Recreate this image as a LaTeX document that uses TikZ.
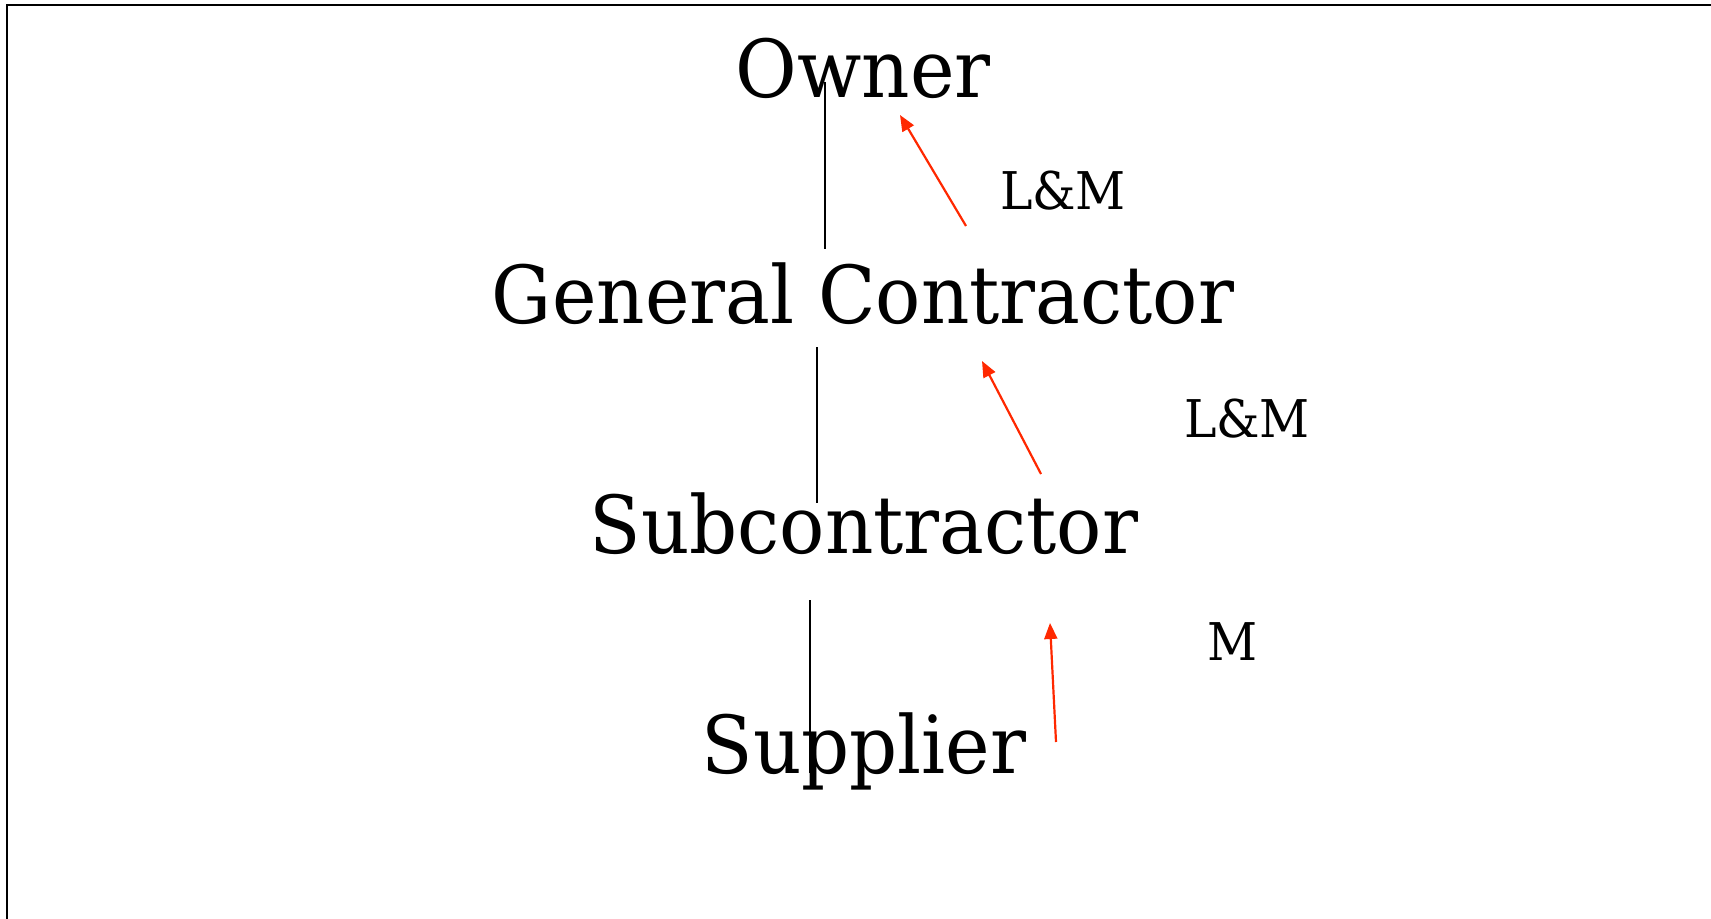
\documentclass[tikz,border=0pt]{standalone}
\usepackage{fontspec}
\setmainfont[FakeStretch=0.94]{DejaVu Serif}
\usetikzlibrary{arrows.meta}
\definecolor{flow}{RGB}{255,40,0}
\tikzset{
  x=0.5pt, y=-0.5pt,
  tier/.style={anchor=base, inner sep=0pt, font=\fontsize{40}{44}\selectfont},
  tag/.style={anchor=base, inner sep=0pt, font=\fontsize{26}{30}\selectfont},
  link/.style={line width=1.1pt, black},
  upflow/.style={line width=1.1pt, flow, -{Triangle[length=8pt,width=6.5pt]}},
}
\begin{document}
\begin{tikzpicture}
\useasboundingbox (0,0) rectangle (1711,919);
\draw[line width=1.1pt] (7,960) -- (7,5) -- (1760,5);
% tiers
\node[tier] (owner) at (863,98) {Owner};
\node[tier] (gc) at (863,324) {General Contractor};
\node[tier] (sub) at (864,553) {Subcontractor};
\node[tier] (sup) at (864,773) {Supplier};
% vertical links
\coordinate (l1a) at (825,82);  \coordinate (l1b) at (825,249);
\coordinate (l2a) at (817,347); \coordinate (l2b) at (817,503);
\coordinate (l3a) at (810,600); \coordinate (l3b) at (810,773);
\draw[link] (l1a) -- (l1b);
\draw[link] (l2a) -- (l2b);
\draw[link] (l3a) -- (l3b);
% upward flows
\coordinate (f1a) at (966,226);  \coordinate (f1b) at (900,115);
\coordinate (f2a) at (1041,474); \coordinate (f2b) at (982,361);
\coordinate (f3a) at (1056,742); \coordinate (f3b) at (1050,623);
\draw[upflow] (f1a) -- (f1b);
\draw[upflow] (f2a) -- (f2b);
\draw[upflow] (f3a) -- (f3b);
% flow labels
\node[tag] (t1) at (1063,210) {L\&M};
\node[tag] (t2) at (1247,437) {L\&M};
\node[tag] (t3) at (1233,660) {M};
\end{tikzpicture}
\end{document}
